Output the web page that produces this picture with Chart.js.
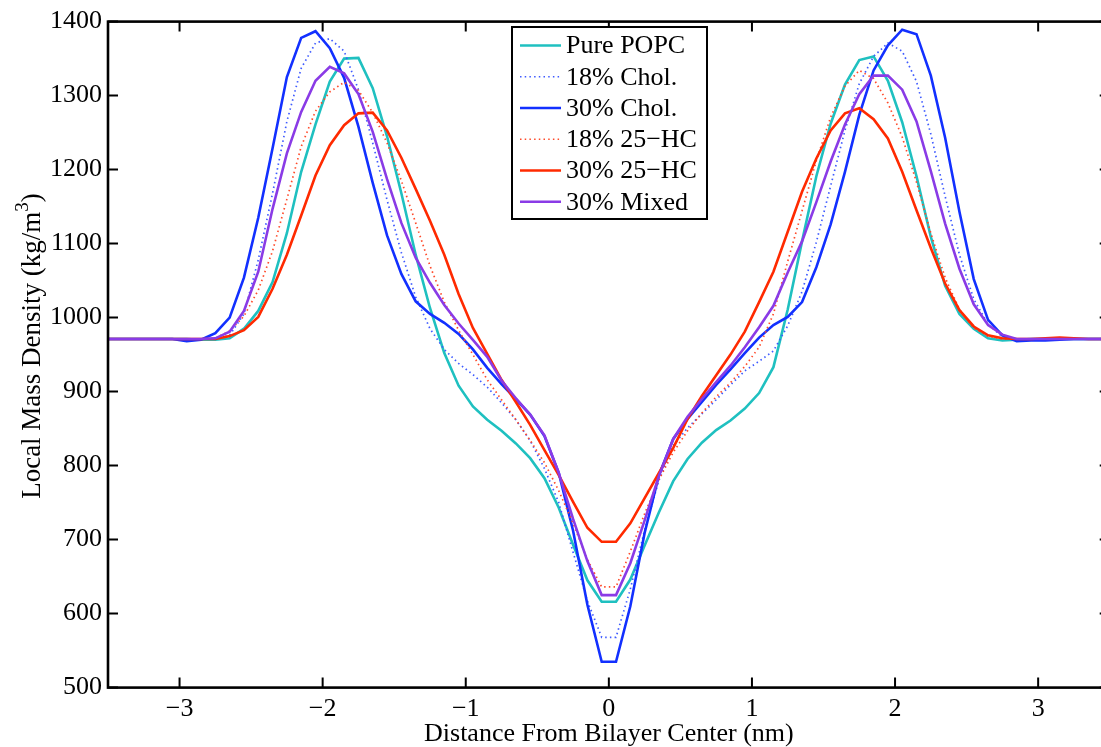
<!DOCTYPE html>
<html><head><meta charset="utf-8">
<script src="https://cdn.jsdelivr.net/npm/chart.js@4.4.1/dist/chart.umd.min.js"></script>
<style>html,body{margin:0;padding:0;background:#fff;overflow:hidden;}#wrap{width:1112px;height:747px;}</style>
</head><body><div id="wrap"><canvas id="c" width="1112" height="747"></canvas></div>
<script>
const xs = [-3.5,-3.45,-3.35,-3.25,-3.15,-3.05,-2.95,-2.85,-2.75,-2.65,-2.55,-2.45,-2.35,-2.25,-2.15,-2.05,-1.95,-1.85,-1.75,-1.65,-1.55,-1.45,-1.35,-1.25,-1.15,-1.05,-0.95,-0.85,-0.75,-0.65,-0.55,-0.45,-0.35,-0.25,-0.15,-0.05,
  0.05,0.15,0.25,0.35,0.45,0.55,0.65,0.75,0.85,0.95,1.05,1.15,1.25,1.35,1.45,1.55,1.65,1.75,1.85,1.95,2.05,2.15,2.25,2.35,2.45,2.55,2.65,2.75,2.85,2.95,3.05,3.15,3.25,3.35,3.45,3.5];

const purePOPC = [971,971,971,971,971,971,971,970,970,972,985,1009,1048,1114,1197,1261,1319,1350,1351,1310,1245,1168,1085,1013,952,908,880,862,847,830,810,783,743,693,645,616,
  616,646,692,737,779,809,831,848,861,877,898,933,1011,1103,1191,1262,1315,1348,1353,1320,1264,1191,1109,1043,1005,985,972,969,970,971,971,971,971,971,971,971];
const chol18 = [971,971,971,971,971,971,971,971,971,976,1005,1078,1168,1265,1337,1371,1377,1360,1308,1236,1159,1088,1028,985,957,938,923,906,885,862,834,796,750,683,617,568,
  568,633,713,780,827,851,870,889,909,928,941,955,989,1035,1102,1178,1253,1316,1353,1371,1360,1319,1248,1164,1085,1025,991,974,971,971,971,971,971,971,971,971];
const chol30 = [971,971,971,971,971,971,968,970,979,1000,1054,1135,1229,1325,1378,1387,1364,1324,1258,1182,1111,1059,1022,1005,993,978,957,932,910,890,869,840,790,712,612,535,
  535,610,709,787,836,863,886,909,930,952,973,990,1001,1021,1068,1126,1197,1274,1334,1368,1389,1383,1327,1243,1143,1052,997,976,968,969,969,970,971,971,971,971];
const hc18 = [971,971,971,971,971,971,971,971,972,982,1002,1037,1090,1160,1231,1279,1305,1318,1307,1277,1236,1185,1128,1070,1021,983,950,916,889,862,834,804,766,722,673,636,
  636,684,735,781,818,847,871,893,912,934,960,1005,1076,1144,1212,1271,1313,1334,1323,1290,1244,1183,1114,1054,1011,986,975,971,971,971,971,971,971,971,971,971];
const hc30 = [971,971,971,971,971,971,971,971,971,975,983,1001,1039,1085,1138,1192,1233,1260,1276,1277,1253,1216,1174,1131,1085,1032,986,951,916,886,855,821,787,751,716,697,
  697,722,756,790,824,863,894,922,950,981,1021,1062,1116,1170,1215,1253,1276,1283,1268,1242,1197,1145,1094,1046,1010,988,976,972,971,971,972,973,972,971,971,971];
const mixed30 = [971,971,971,971,971,971,971,971,972,981,1009,1062,1147,1222,1278,1320,1339,1330,1302,1251,1187,1128,1081,1047,1017,992,970,947,915,891,869,841,790,728,671,625,
  625,668,726,786,836,866,890,913,935,960,987,1016,1061,1103,1156,1211,1261,1302,1327,1327,1308,1265,1198,1127,1066,1018,990,977,971,971,971,971,971,971,971,971];

const seriesNames = ['Pure POPC','18% Chol.','30% Chol.','18% 25\u2212HC','30% 25\u2212HC','30% Mixed'];
const xTickValues = [-3,-2,-1,0,1,2,3];
const xTickLabels = ['\u22123','\u22122','\u22121','0','1','2','3'];
const yTickValues = [500,600,700,800,900,1000,1100,1200,1300,1400];
const xTitle = 'Distance From Bilayer Center (nm)';
const yTitleMain = 'Local Mass Density (kg/m';
const yTitleSup = '3';
const yTitleEnd = ')';

const FONT = "'Liberation Serif','Times New Roman',serif";
Chart.defaults.font.family = FONT;
Chart.defaults.font.size = 26;
Chart.defaults.color = '#000';

const styles = [
  {c:'#1fc0c0', w:2.6, dash:[]},
  {c:'#3f5bff', w:1.7, dash:[1.5,3.2]},
  {c:'#1230ff', w:2.6, dash:[]},
  {c:'#ff4a2a', w:1.7, dash:[1.5,3.2]},
  {c:'#ff2a00', w:2.6, dash:[]},
  {c:'#8a3be6', w:2.6, dash:[]}
];
const allSeries = [purePOPC, chol18, chol30, hc18, hc30, mixed30];

const datasets = allSeries.map((s,i)=>({
  label: seriesNames[i],
  data: xs.map((x,j)=>({x:x, y:s[j]})),
  borderColor: styles[i].c,
  borderWidth: styles[i].w,
  borderDash: styles[i].dash,
  pointRadius: 0,
  tension: 0,
  fill: false,
  order: 5 - i
}));

const framePlugin = {
  id:'frame',
  afterDraw(chart){
    const {ctx, chartArea:a, scales:{x,y}} = chart;
    ctx.save();
    ctx.strokeStyle = '#000';
    ctx.lineWidth = 2;
    ctx.beginPath();
    xTickValues.forEach(v=>{const p=x.getPixelForValue(v);
      ctx.moveTo(p,a.bottom); ctx.lineTo(p,a.bottom-10);
      ctx.moveTo(p,a.top); ctx.lineTo(p,a.top+10);});
    yTickValues.forEach(v=>{const p=y.getPixelForValue(v);
      ctx.moveTo(a.left,p); ctx.lineTo(a.left+10,p);
      ctx.moveTo(a.right,p); ctx.lineTo(a.right-10,p);});
    ctx.stroke();
    ctx.lineWidth = 2.6;
    ctx.strokeRect(a.left, a.top, a.right-a.left, a.bottom-a.top);

    // legend
    const lx = 512, ly = 27, lw = 195, lh = 192;
    ctx.fillStyle = '#fff';
    ctx.fillRect(lx, ly, lw, lh);
    ctx.lineWidth = 2;
    ctx.strokeRect(lx, ly, lw, lh);
    ctx.font = '26px ' + FONT;
    ctx.textBaseline = 'middle';
    ctx.textAlign = 'left';
    chart.data.datasets.forEach((d,i)=>{
      const ry = 45.5 + i*31.25;
      ctx.save();
      ctx.strokeStyle = d.borderColor;
      ctx.lineWidth = d.borderWidth;
      ctx.setLineDash(d.borderDash);
      ctx.beginPath(); ctx.moveTo(520, ry); ctx.lineTo(561, ry); ctx.stroke();
      ctx.restore();
      ctx.fillStyle = '#000';
      ctx.fillText(d.label, 566, ry + 1);
    });

    // y title with superscript
    ctx.save();
    ctx.translate(40, 346);
    ctx.rotate(-Math.PI/2);
    ctx.fillStyle = '#000';
    ctx.textBaseline = 'alphabetic';
    ctx.font = '27px ' + FONT;
    const w1 = ctx.measureText(yTitleMain).width;
    const w3 = ctx.measureText(yTitleEnd).width;
    ctx.font = '19px ' + FONT;
    const w2 = ctx.measureText(yTitleSup).width;
    let sx = -(w1+w2+w3)/2;
    ctx.font = '27px ' + FONT;
    ctx.fillText(yTitleMain, sx, 0);
    ctx.font = '19px ' + FONT;
    ctx.fillText(yTitleSup, sx + w1, -12);
    ctx.font = '27px ' + FONT;
    ctx.fillText(yTitleEnd, sx + w1 + w2, 0);
    ctx.restore();
    ctx.restore();
  }
};

new Chart(document.getElementById('c'), {
  type: 'line',
  data: { datasets },
  options: {
    responsive: false,
    animation: false,
    devicePixelRatio: 1,
    layout: { padding: { left: 0, top: 20.7, right: 2.3, bottom: 0 } },
    plugins: { legend: { display: false }, tooltip: { enabled: false } },
    scales: {
      x: {
        type: 'linear', min: -3.5, max: 3.5,
        grid: { display: false, drawTicks: false },
        border: { display: false },
        afterBuildTicks: s => { s.ticks = xTickValues.map(v=>({value:v})); },
        afterFit: s => { s.height = 59.4; },
        ticks: { padding: 6, maxRotation: 0, autoSkip: false,
          callback: v => xTickLabels[xTickValues.indexOf(v)] },
        title: { display: true, text: xTitle, padding: {top:0, bottom:-3}, font: {size: 26} }
      },
      y: {
        type: 'linear', min: 500, max: 1400,
        grid: { display: false, drawTicks: false },
        border: { display: false },
        afterBuildTicks: s => { s.ticks = yTickValues.map(v=>({value:v})); },
        afterFit: s => { s.width = 108; },
        ticks: { padding: 6, autoSkip: false, callback: v => String(v) }
      }
    }
  },
  plugins: [framePlugin]
});
</script>
</body></html>
